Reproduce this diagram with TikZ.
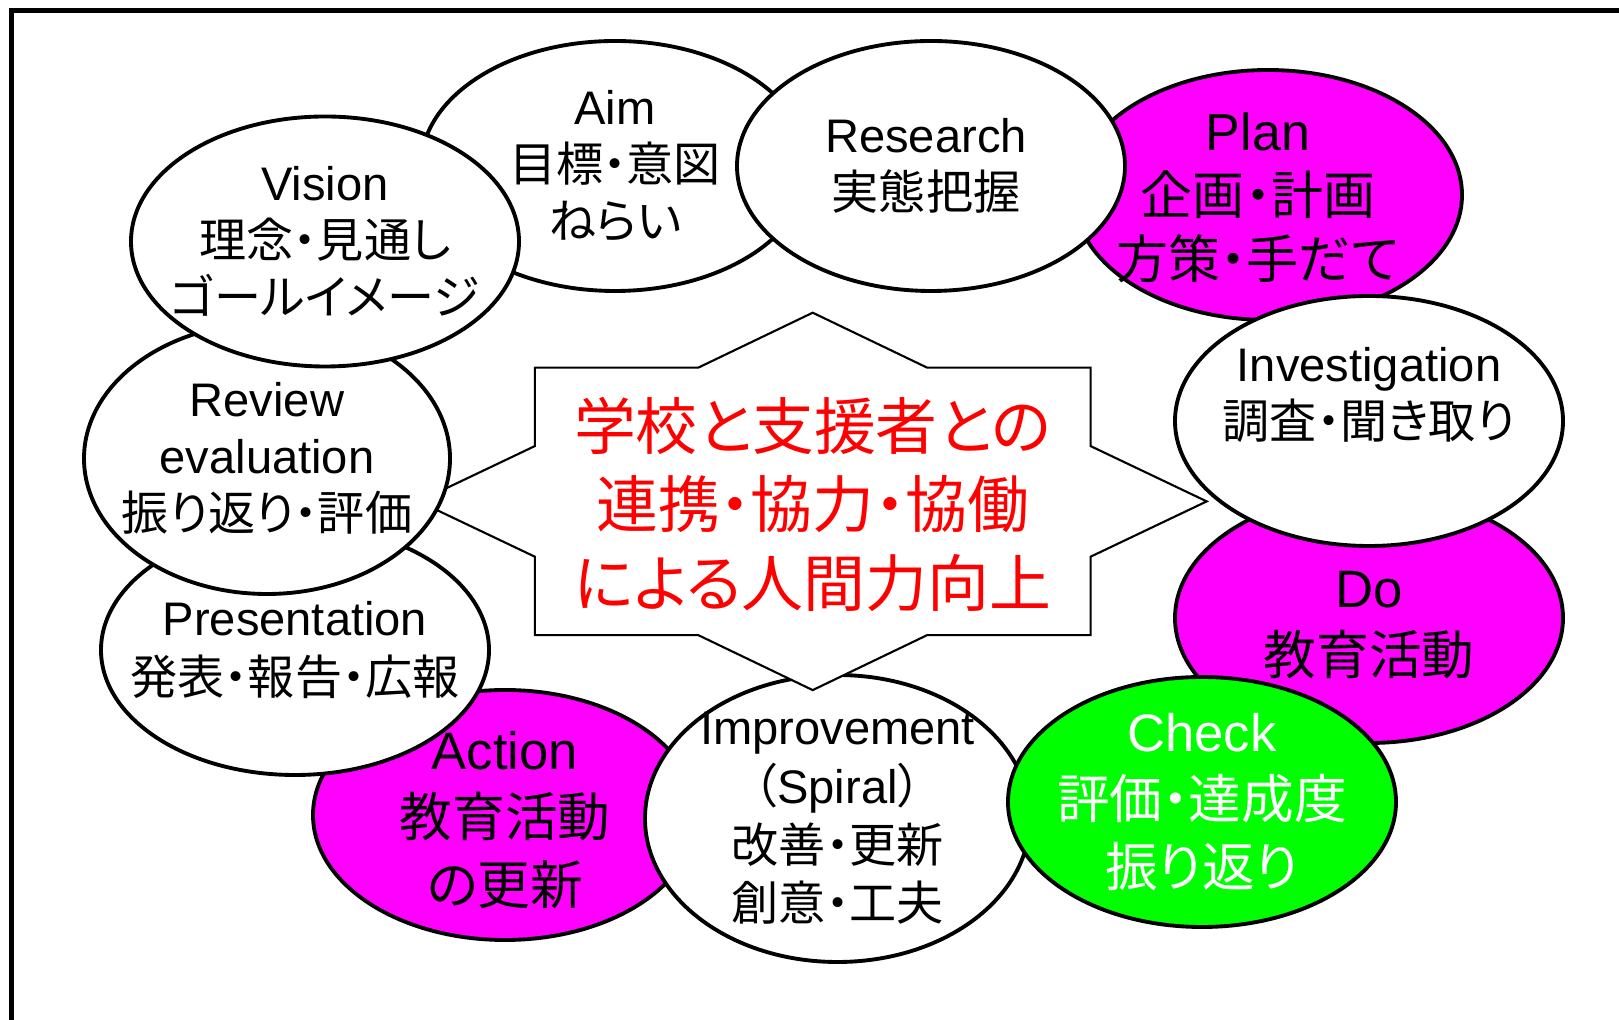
\documentclass[tikz,border=0pt]{standalone}
\usepackage{fontspec}
\setmainfont{Liberation Sans}
\newfontfamily\jp[RawFeature=+palt]{Noto Sans CJK JP}
\usetikzlibrary{shapes.geometric}
\definecolor{pinkfill}{RGB}{255,0,255}
\definecolor{greenfill}{RGB}{0,255,0}

\begin{document}
\begin{tikzpicture}[
    bubble/.style={draw,ellipse,line width=1.1pt,fill=white,inner sep=0pt,minimum width=3.88cm,minimum height=2.5cm},
    hotbubble/.style={bubble,fill=pinkfill},
    okbubble/.style={bubble,fill=greenfill},
    words/.style={align=center,inner sep=0pt,font=\fontsize{13.4}{16.3}\selectfont},
    bigwords/.style={words,font=\fontsize{15}{19.1}\selectfont},
    starline/.style={draw,fill=white,line width=0.6pt,line join=miter}
    ]

    \useasboundingbox (0,0) rectangle (16.19,-10.20);
    \draw[line width=1.45pt] (0.117,-10.20) |- (16.19,-0.108);

    \node[bubble] (aim) at (6.15,-1.66) {};
    \node[words] (aimtext) at (aim) {Aim\\{\jp 目標・意図}\\{\jp ねらい}};

    \node[hotbubble] (plan) at (12.68,-1.95) {};
    \node[words,font=\fontsize{14.8}{18.3}\selectfont] (plantext) at ([xshift=-0.1cm,yshift=-0.03cm]plan) {Plan\\{\jp 企画・計画}\\{\jp 方策・手だて}};

    \node[bubble] (research) at (9.31,-1.66) {};
    \node[words] (researchtext) at ([xshift=-0.05cm]research) {Research\\{\jp 実態把握}};

    \node[hotbubble] (do) at (13.69,-6.18) {};
    \node[bigwords] (dotext) at ([yshift=-0.07cm]do) {Do\\{\jp 教育活動}};

    \node[bubble] (investigation) at (13.69,-4.21) {};
    \node[words,yshift=0.26cm] (investigationtext) at (investigation) {Investigation\\{\jp 調査・聞き取り}};

    \node[hotbubble,minimum width=3.84cm] (action) at (5.05,-8.15) {};
    \node[bigwords] (actiontext) at ([yshift=-0.05cm]action) {Action\\{\jp 教育活動}\\{\jp の更新}};

    \node[bubble,minimum width=3.85cm,minimum height=2.87cm] (improvement) at (8.375,-8.185) {};
    \node[words,font=\fontsize{13.4}{16.7}\selectfont] (improvementtext) at (improvement) {Improvement\\{\jp （}Spiral{\jp ）}\\{\jp 改善・更新}\\{\jp 創意・工夫}};

    \node[okbubble] (check) at (12.02,-8.02) {};
    \node[bigwords,text=white] (checktext) at (check) {Check\\{\jp 評価・達成度}\\{\jp 振り返り}};

    \coordinate (hub) at (8.127,-5.014);
    \draw[starline,shift={(hub)}] (0,1.887) -- (1.145,1.337) -- (2.779,1.337) -- (2.779,0.553)
        -- (3.94,0) -- (2.779,-0.553) -- (2.779,-1.337) -- (1.145,-1.337) -- (0,-1.887)
        -- (-1.145,-1.337) -- (-2.779,-1.337) -- (-2.779,-0.553) -- (-3.94,0)
        -- (-2.779,0.553) -- (-2.779,1.337) -- (-1.145,1.337) -- cycle;
    \node[words,text=red,font=\jp\fontsize{17.6}{22.4}\selectfont] (goal) at ([yshift=-0.03cm]hub) {学校と支援者との\\連携・協力・協働\\による人間力向上};

    \node[bubble] (presentation) at (2.95,-6.50) {};
    \node[words,font=\fontsize{13.4}{17}\selectfont] (presentationtext) at (presentation) {Presentation\\{\jp 発表・報告・広報}};

    \node[bubble,minimum width=3.66cm,minimum height=2.71cm] (review) at (2.67,-4.585) {};
    \node[words] (reviewtext) at (review) {Review\\evaluation\\{\jp 振り返り・評価}};

    \node[bubble] (vision) at (3.25,-2.415) {};
    \node[words] (visiontext) at (vision) {Vision\\{\jp 理念・見通し}\\{\jp ゴールイメージ}};

  \end{tikzpicture}
\end{document}
